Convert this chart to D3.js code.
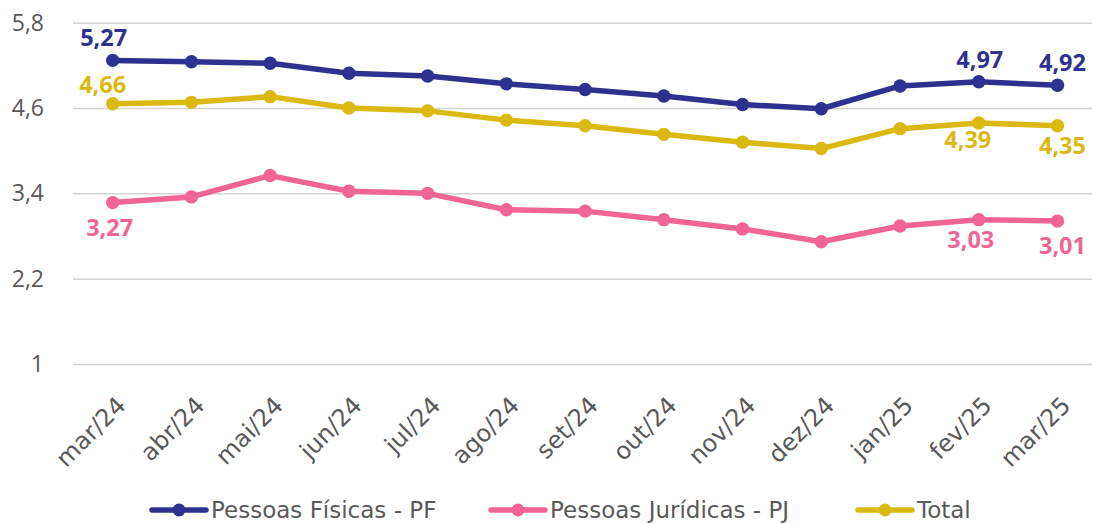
<!DOCTYPE html>
<html>
<head>
<meta charset="utf-8">
<script src="https://cdn.jsdelivr.net/npm/d3@7"></script>
<style>
  body { margin: 0; background: #fff; }
  svg { display: block; font-family: "DejaVu Sans", sans-serif; }
</style>
</head>
<body>
<svg width="1094" height="524"></svg>
<script>
// months on the x axis
const months = ["mar/24", "abr/24", "mai/24", "jun/24", "jul/24", "ago/24", "set/24",
  "out/24", "nov/24", "dez/24", "jan/25", "fev/25", "mar/25"];

// series values
const pf = [5.27, 5.25, 5.23, 5.09, 5.05, 4.94, 4.86, 4.77, 4.65, 4.59, 4.91, 4.97, 4.92];
const pj = [3.27, 3.35, 3.65, 3.43, 3.40, 3.17, 3.15, 3.03, 2.90, 2.72, 2.94, 3.03, 3.01];
const total = [4.66, 4.68, 4.76, 4.60, 4.56, 4.43, 4.35, 4.23, 4.12, 4.03, 4.31, 4.39, 4.35];

const yTicks = [1, 2.2, 3.4, 4.6, 5.8];

const series = [
  { name: "Pessoas Físicas - PF", values: pf, color: "#2E3190" },
  { name: "Pessoas Jurídicas - PJ", values: pj, color: "#F06496" },
  { name: "Total", values: total, color: "#DCB912" }
];

// which points get a value label, and where
const labelled = [
  { s: 0, i: 0, dx: -9, dy: -14 }, { s: 0, i: 11, dx: 1, dy: -14 }, { s: 0, i: 12, dx: 5, dy: -14 },
  { s: 2, i: 0, dx: -10, dy: -11 }, { s: 2, i: 11, dx: -11, dy: 25 }, { s: 2, i: 12, dx: 5, dy: 28 },
  { s: 1, i: 0, dx: -3, dy: 33 }, { s: 1, i: 11, dx: -8, dy: 28 }, { s: 1, i: 12, dx: 5, dy: 33 }
];

const comma = d => String(d).replace(".", ",");

const svg = d3.select("svg");
const left = 73, right = 1092;

const x = d3.scalePoint().domain(months).range([112.7, 1057.5]);
const y = d3.scaleLinear().domain([1, 5.8]).range([364, 22.7]);

// y axis + gridlines
const yAxis = svg.append("g")
  .attr("transform", `translate(${left},0)`)
  .call(d3.axisLeft(y).tickValues(yTicks).tickFormat(comma)
    .tickSizeInner(-(right - left)).tickSizeOuter(0).tickPadding(29));
yAxis.select(".domain").remove();
yAxis.selectAll("line").attr("stroke", "#d4d4d4").attr("stroke-width", 1.5);
yAxis.selectAll("text").attr("fill", "#595959")
  .style("font-family", "'Open Sans', sans-serif").style("font-size", "23px");

// x axis labels
const xAxis = svg.append("g")
  .attr("transform", "translate(0,364)")
  .call(d3.axisBottom(x).tickSize(0));
xAxis.select(".domain").remove();
xAxis.selectAll("text")
  .attr("fill", "#595959")
  .style("font-family", "'DejaVu Sans', sans-serif")
  .style("font-size", "24px")
  .style("text-anchor", "end")
  .attr("x", 0).attr("y", 0).attr("dy", 0)
  .attr("transform", "translate(14,43) rotate(-45)");

const line = d3.line().x((d, i) => x(months[i])).y(d => y(d));

series.forEach(s => {
  svg.append("path")
    .datum(s.values)
    .attr("d", line)
    .attr("fill", "none")
    .attr("stroke", s.color)
    .attr("stroke-width", 5.5)
    .attr("stroke-linejoin", "round");
  svg.append("g").selectAll("circle")
    .data(s.values)
    .enter().append("circle")
    .attr("cx", (d, i) => x(months[i]))
    .attr("cy", d => y(d))
    .attr("r", 6.7)
    .attr("fill", s.color);
});

svg.append("g").selectAll("text")
  .data(labelled)
  .enter().append("text")
  .attr("x", d => x(months[d.i]) + d.dx)
  .attr("y", d => y(series[d.s].values[d.i]) + d.dy)
  .attr("text-anchor", "middle")
  .attr("fill", d => series[d.s].color)
  .style("font-family", "'Open Sans', sans-serif")
  .style("font-size", "23.5px")
  .style("font-weight", "bold")
  .text(d => comma(series[d.s].values[d.i].toFixed(2)));

// legend
const legendX = [179, 518, 885];
const legend = svg.append("g").selectAll("g")
  .data(series)
  .enter().append("g")
  .attr("transform", (d, i) => `translate(${legendX[i]},510)`);
legend.append("line")
  .attr("x1", -27).attr("x2", 27)
  .attr("stroke", d => d.color).attr("stroke-width", 5.5).attr("stroke-linecap", "round");
legend.append("circle").attr("r", 6.5).attr("fill", d => d.color);
legend.append("text")
  .attr("x", 32).attr("dy", "0.35em")
  .attr("fill", "#595959")
  .style("font-size", "23px")
  .text(d => d.name);
</script>
</body>
</html>
